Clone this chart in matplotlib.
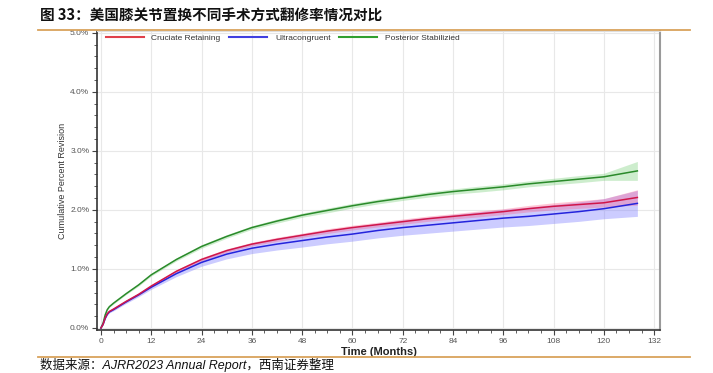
import matplotlib.pyplot as plt
from matplotlib.lines import Line2D
from matplotlib.ticker import MultipleLocator, FuncFormatter
import numpy as np

# ── data (cumulative percent revision) ───────────────────────────────────────
months = [0, 0.5, 1, 1.5, 2, 3, 6, 9, 12, 18, 24, 30, 36, 42, 48, 54, 60,
          66, 72, 78, 84, 90, 96, 102, 108, 114, 120, 128]

cruciate = [0, 0.06, 0.17, 0.24, 0.28, 0.32, 0.45, 0.57, 0.71, 0.96, 1.16, 1.31,
            1.42, 1.50, 1.57, 1.64, 1.70, 1.75, 1.80, 1.85, 1.89, 1.93, 1.97,
            2.02, 2.06, 2.09, 2.12, 2.21]
ultra = [0, 0.06, 0.16, 0.23, 0.27, 0.31, 0.44, 0.56, 0.69, 0.92, 1.11, 1.25,
         1.35, 1.42, 1.48, 1.54, 1.59, 1.65, 1.70, 1.74, 1.78, 1.82, 1.86,
         1.89, 1.93, 1.97, 2.02, 2.11]
posterior = [0, 0.08, 0.22, 0.31, 0.36, 0.42, 0.58, 0.73, 0.90, 1.16, 1.38, 1.55,
             1.70, 1.81, 1.91, 1.99, 2.07, 2.14, 2.20, 2.26, 2.31, 2.35, 2.39,
             2.44, 2.48, 2.52, 2.56, 2.66]

# half widths of the confidence bands
cruciate_ci = [0, 0.005, 0.01, 0.01, 0.01, 0.015, 0.015, 0.02, 0.02, 0.025, 0.03, 0.03,
               0.03, 0.035, 0.035, 0.04, 0.04, 0.04, 0.045, 0.045, 0.045, 0.05, 0.05,
               0.055, 0.06, 0.065, 0.07, 0.13]
ultra_ci = [0, 0.005, 0.01, 0.015, 0.015, 0.02, 0.025, 0.03, 0.035, 0.05, 0.065, 0.08,
            0.09, 0.10, 0.11, 0.115, 0.12, 0.125, 0.13, 0.135, 0.14, 0.145, 0.15,
            0.155, 0.16, 0.165, 0.17, 0.22]
posterior_ci = [0, 0.005, 0.01, 0.01, 0.01, 0.015, 0.015, 0.02, 0.02, 0.025, 0.03, 0.03,
                0.03, 0.035, 0.035, 0.04, 0.04, 0.04, 0.04, 0.045, 0.045, 0.05, 0.05,
                0.05, 0.055, 0.06, 0.06, 0.16]

labels = ['Cruciate Retaining', 'Ultracongruent', 'Posterior Stabilizied']
x_ticks = list(range(0, 133, 12))
y_ticks = [0, 1, 2, 3, 4, 5]

title = '图 33：美国膝关节置换不同手术方式翻修率情况对比'
source = '数据来源：AJRR2023 Annual Report，西南证券整理'
# ─────────────────────────────────────────────────────────────────────────────

plt.rcParams['font.family'] = ['Liberation Sans', 'Noto Sans CJK SC', 'DejaVu Sans']

W, H = 713, 373
fig = plt.figure(figsize=(W / 100, H / 100), dpi=100)

ax = fig.add_axes([97 / W, (H - 330) / H, (660 - 97) / W, (330 - 31) / H])

red, blue, green = '#d0164a', '#2424dc', '#2a8a2a'
series = [
    (cruciate, cruciate_ci, red, '#ff5c88', 0.35),
    (ultra, ultra_ci, blue, '#8080ff', 0.40),
    (posterior, posterior_ci, green, '#5cc45c', 0.30),
]
m = np.array(months)
# bands first (blue under red so the overlap turns purple), then lines
for idx in [1, 0, 2]:
    vals, ci, c, fc, a = series[idx]
    v = np.array(vals)
    e = np.array(ci)
    ax.fill_between(m, v - e, v + e, color=fc, alpha=a, lw=0, zorder=2)
for idx in [2, 1, 0]:
    vals, ci, c, fc, a = series[idx]
    ax.plot(m, vals, color=c, lw=1.1, zorder=3)

ax.set_xlim(-0.95, 133.4)
ax.set_ylim(-0.035, 5.03)
ax.set_xticks(x_ticks)
ax.set_yticks(y_ticks)
ax.xaxis.set_minor_locator(MultipleLocator(3))
ax.yaxis.set_minor_locator(MultipleLocator(0.2))
ax.yaxis.set_major_formatter(FuncFormatter(lambda v, p: f'{v:.1f}%'))
ax.tick_params(axis='both', which='major', length=3.5, width=0.8, labelsize=6,
               labelcolor='#555555', color='#444444', pad=2)
ax.tick_params(axis='both', which='minor', length=2, width=0.6, color='#444444')
ax.grid(True, which='major', color='#e8e8e8', lw=0.8, zorder=0)
ax.set_axisbelow(True)

for s in ['left', 'bottom']:
    ax.spines[s].set_color('#333333')
    ax.spines[s].set_linewidth(1.2)
ax.spines['right'].set_color('#9a9a9a')
ax.spines['right'].set_linewidth(1.5)
ax.spines['top'].set_color('#dddddd')

ax.set_ylabel('Cumulative Percent Revision', fontsize=6.5, color='#333333', labelpad=2)
ax.set_xlabel('Time (Months)', fontsize=8, fontweight='bold', color='#222222', labelpad=2)

handles = [Line2D([], [], color=c, lw=1.5) for c in ['#e0404a', '#4040e0', '#30a030']]
leg = ax.legend(handles, labels, ncol=3, loc='upper left', bbox_to_anchor=(0.005, 1.01),
                fontsize=6, frameon=False, handlelength=4.6, handletextpad=0.9,
                columnspacing=1.0, borderaxespad=0.3)
for t in leg.get_texts():
    t.set_color('#333333')

# report page furniture: title, orange rules, source line
fig.text(40 / W, 1 - 16 / H, title, fontsize=10.5, fontweight='bold', va='center',
         ha='left', family=['Noto Sans CJK SC', 'DejaVu Sans'], color='#111111')
fig.add_artist(Line2D([38 / W, 690 / W], [1 - 30 / H, 1 - 30 / H], color='#d9a35c', lw=1.3,
                      transform=fig.transFigure, zorder=10))
fig.add_artist(Line2D([38 / W, 690 / W], [1 - 357 / H, 1 - 357 / H], color='#d9a35c', lw=1.3,
                      transform=fig.transFigure, zorder=10))
fig.text(40 / W, 1 - 369 / H, source, fontsize=9, style='italic', va='baseline', ha='left',
         family=['Liberation Sans', 'Noto Sans CJK SC', 'DejaVu Sans'], color='#111111')

fig.savefig('out.png', dpi=100)
